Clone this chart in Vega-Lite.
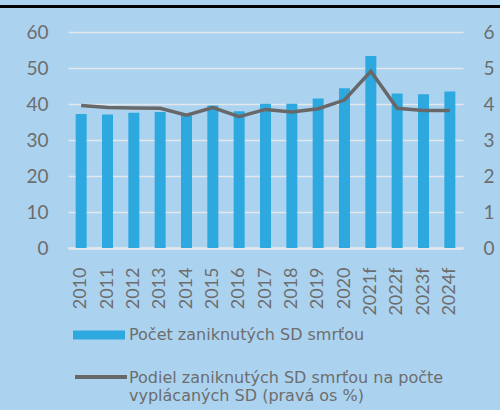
{
  "$schema": "https://vega.github.io/schema/vega-lite/v6.json",
  "width": 395,
  "height": 216,
  "autosize": {"type": "none"},
  "padding": {"left": 68, "top": 32, "right": 37, "bottom": 162},
  "background": "#abd3f0",
  "config": {
    "view": {"stroke": null},
    "axis": {"labelFont": "Lato", "labelColor": "#6d6d6d", "gridColor": "#e4e8ec", "gridWidth": 1.5, "ticks": false, "domain": false, "title": null}
  },
  "data": {
    "values": [
      {"year": "2010", "count": 37.2, "share": 3.96},
      {"year": "2011", "count": 37.1, "share": 3.9},
      {"year": "2012", "count": 37.6, "share": 3.89},
      {"year": "2013", "count": 37.8, "share": 3.88},
      {"year": "2014", "count": 36.9, "share": 3.69},
      {"year": "2015", "count": 39.6, "share": 3.9},
      {"year": "2016", "count": 38.0, "share": 3.65},
      {"year": "2017", "count": 40.1, "share": 3.85},
      {"year": "2018", "count": 40.1, "share": 3.78},
      {"year": "2019", "count": 41.5, "share": 3.87},
      {"year": "2020", "count": 44.4, "share": 4.11},
      {"year": "2021f", "count": 53.3, "share": 4.91},
      {"year": "2022f", "count": 42.9, "share": 3.88},
      {"year": "2023f", "count": 42.7, "share": 3.82},
      {"year": "2024f", "count": 43.5, "share": 3.82}
    ]
  },
  "layer": [
    {
      "layer": [
        {
          "mark": {"type": "bar", "size": 11},
          "encoding": {
            "x": {
              "field": "year", "type": "ordinal", "sort": null,
              "scale": {"paddingInner": 0.58, "paddingOuter": 0.29},
              "axis": {"labelAngle": -90, "labelFontSize": 18, "labelPadding": 19, "domain": true, "domainColor": "#e4e8ec", "domainWidth": 2.5, "grid": false}
            },
            "y": {
              "field": "count", "type": "quantitative",
              "scale": {"domain": [0, 60]},
              "axis": {"orient": "left", "values": [0, 10, 20, 30, 40, 50, 60], "labelFontSize": 19, "labelPadding": 20}
            },
            "fill": {
              "datum": "Počet zaniknutých SD smrťou",
              "scale": {"range": ["#2ea9df"]},
              "legend": {
                "title": null, "orient": "none", "legendX": 5, "legendY": 277,
                "symbolType": "M-1,-0.17H1V0.17H-1Z", "symbolSize": 2704, "symbolStrokeWidth": 0,
                "labelFont": "DejaVu Sans", "labelFontSize": 16, "labelColor": "#6d6d6d", "labelOffset": 4, "labelLimit": 400
              }
            }
          }
        },
        {
          "mark": {"type": "line", "strokeWidth": 3.5},
          "encoding": {
            "x": {"field": "year", "type": "ordinal", "sort": null},
            "y": {
              "field": "share", "type": "quantitative",
              "scale": {"domain": [0, 6]},
              "axis": {"orient": "right", "values": [0, 1, 2, 3, 4, 5, 6], "labelFontSize": 19, "labelPadding": 20, "grid": false}
            },
            "stroke": {
              "datum": "Podiel zaniknutých SD smrťou na počte vyplácaných SD (pravá os %)",
              "scale": {"range": ["#686868"]},
              "legend": {
                "title": null, "orient": "none", "legendX": 5, "legendY": 323,
                "symbolType": "M-1,-0.23H1", "symbolSize": 2704, "symbolStrokeWidth": 4, "symbolFillColor": "transparent",
                "labelFont": "DejaVu Sans", "labelFontSize": 16, "labelColor": "#6d6d6d", "labelOffset": 0, "labelLimit": 400,
                "labelBaseline": "alphabetic", "labelLineHeight": 20,
                "labelExpr": "['Podiel zaniknutých SD smrťou na počte', 'vyplácaných SD (pravá os %)']"
              }
            }
          }
        }
      ],
      "resolve": {"scale": {"y": "independent"}}
    },
    {
      "mark": {"type": "rule", "color": "black", "strokeWidth": 2.5, "clip": false},
      "encoding": {
        "x": {"datum": -0.172, "type": "quantitative", "scale": {"domain": [0, 1]}, "axis": null},
        "x2": {"datum": 1.094},
        "y": {"datum": 67, "type": "quantitative", "scale": {"domain": [0, 60]}, "axis": null}
      }
    }
  ],
  "resolve": {"scale": {"x": "independent", "y": "independent"}}
}
